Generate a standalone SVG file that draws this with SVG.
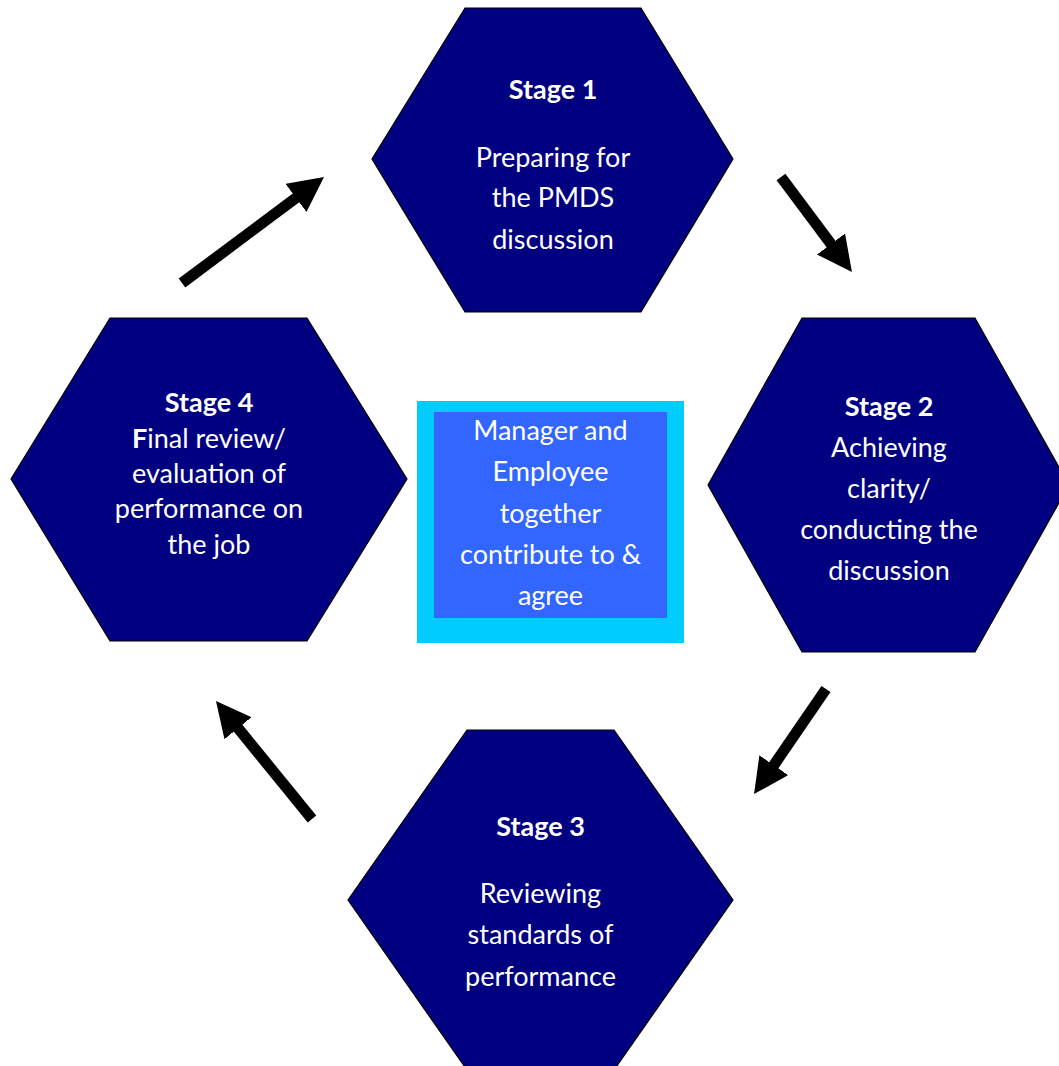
<svg xmlns="http://www.w3.org/2000/svg" width="1059" height="1066" viewBox="0 0 1059 1066">
<style>
.hex{fill:#000080;stroke:#000000;stroke-width:1.2}
.t{font-family:Lato,"Liberation Sans",sans-serif;font-size:27px;fill:#ffffff;text-anchor:middle}
.b{font-weight:bold}
.arr{stroke:#000000;stroke-width:11;fill:none;marker-end:url(#head)}
</style>
<defs>
<marker id="head" markerUnits="userSpaceOnUse" markerWidth="36" markerHeight="36" refX="5" refY="17.5" orient="auto" viewBox="0 0 36 36">
<path d="M0,0 L35,17.5 L0,35 z" fill="#000000"/>
</marker>
</defs>
<rect width="1059" height="1066" fill="#ffffff"/>
<g id="stage1">
<polygon class="hex" points="465,8 641,8 733,159 641,312 465,312 372,159"/>
<text class="t b" x="553" y="99">Stage 1</text>
<text class="t" x="553" y="167">Preparing for</text>
<text class="t" x="553" y="207">the PMDS</text>
<text class="t" x="553" y="249">discussion</text>
</g>
<g id="stage2">
<polygon class="hex" points="802,318 975,318 1069,485 975,652 802,652 708,485"/>
<text class="t b" x="889" y="416">Stage 2</text>
<text class="t" x="889" y="457">Achieving</text>
<text class="t" x="889" y="498">clarity/</text>
<text class="t" x="889" y="539">conducting the</text>
<text class="t" x="889" y="580">discussion</text>
</g>
<g id="stage3">
<polygon class="hex" points="467,730 614,730 733,900 614,1070 467,1070 348,900"/>
<text class="t b" x="540.5" y="836">Stage 3</text>
<text class="t" x="540.5" y="903">Reviewing</text>
<text class="t" x="540.5" y="944">standards of</text>
<text class="t" x="540.5" y="986">performance</text>
</g>
<g id="stage4">
<polygon class="hex" points="110,318 307,318 407,479 307,641 110,641 11,479"/>
<text class="t b" x="209" y="412">Stage 4</text>
<text class="t" x="209" y="448"><tspan class="b">F</tspan>inal review/</text>
<text class="t" x="209" y="483">evaluation of</text>
<text class="t" x="209" y="518">performance on</text>
<text class="t" x="209" y="554">the job</text>
</g>
<g id="center">
<rect x="417" y="401" width="267" height="242" fill="#00CCFF"/>
<rect x="434" y="412" width="233" height="206" fill="#3366FF"/>
<text class="t" x="550.5" y="440">Manager and</text>
<text class="t" x="550.5" y="481">Employee</text>
<text class="t" x="550.5" y="523">together</text>
<text class="t" x="550.5" y="564">contribute to &amp;</text>
<text class="t" x="550.5" y="605">agree</text>
</g>
<g id="connectors">
<line class="arr" x1="182" y1="283" x2="300" y2="194.9"/>
<line class="arr" x1="781" y1="177" x2="834" y2="248"/>
<line class="arr" x1="826" y1="689" x2="771" y2="769.3"/>
<line class="arr" x1="312" y1="819" x2="234.9" y2="724.3"/>
</g>
</svg>
